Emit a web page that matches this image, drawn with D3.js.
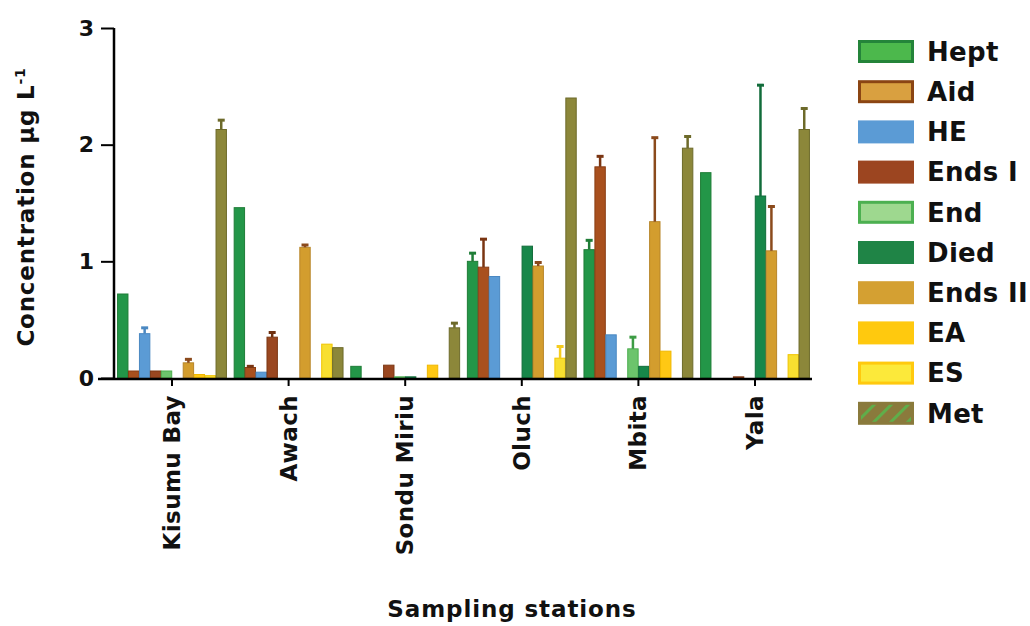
<!DOCTYPE html>
<html>
<head>
<meta charset="utf-8">
<script src="https://cdn.jsdelivr.net/npm/d3@7"></script>
<style>
  body { margin: 0; background: #fff; }
  svg text { font-family: "DejaVu Sans", sans-serif; font-weight: 700; fill: #111; }
</style>
</head>
<body>
<svg id="chart"></svg>
<script>
// stations and series (legend order)
const stations = ['Kisumu Bay', 'Awach', 'Sondu Miriu', 'Oluch', 'Mbita', 'Yala'];
const seriesNames = ['Hept', 'Aid', 'HE', 'Ends I', 'End', 'Died', 'Ends II', 'EA', 'ES', 'Met'];

// mean values per station
const hept   = [0.72, 1.46, 0.10, 1.00, 1.10, 1.76];
const aid    = [0.06, 0.09, 0.00, 0.95, 1.81, 0.00];
const he     = [0.38, 0.05, 0.00, 0.87, 0.37, 0.00];
const endsI  = [0.06, 0.35, 0.11, 0.00, 0.00, 0.01];
const end    = [0.06, 0.00, 0.01, 0.00, 0.25, 0.00];
const died   = [0.00, 0.00, 0.01, 1.13, 0.10, 1.56];
const endsII = [0.13, 1.12, 0.00, 0.96, 1.34, 1.09];
const ea     = [0.03, 0.00, 0.11, 0.00, 0.23, 0.00];
const es     = [0.02, 0.29, 0.00, 0.17, 0.00, 0.20];
const met    = [2.13, 0.26, 0.43, 2.40, 1.97, 2.13];

// upper error bars
const heptErr   = [0, 0, 0, 0.07, 0.08, 0];
const aidErr    = [0, 0.01, 0, 0.24, 0.09, 0];
const heErr     = [0.05, 0, 0, 0, 0, 0];
const endsIErr  = [0, 0.04, 0, 0, 0, 0];
const endErr    = [0, 0, 0, 0, 0.10, 0];
const diedErr   = [0, 0, 0, 0, 0, 0.95];
const endsIIErr = [0.03, 0.02, 0, 0.03, 0.72, 0.38];
const eaErr     = [0, 0, 0, 0, 0, 0];
const esErr     = [0, 0, 0, 0.10, 0, 0];
const metErr    = [0.08, 0, 0.04, 0, 0.10, 0.18];

const yTicks = [0, 1, 2, 3];

const values = [hept, aid, he, endsI, end, died, endsII, ea, es, met];
const errors = [heptErr, aidErr, heErr, endsIErr, endErr, diedErr, endsIIErr, eaErr, esErr, metErr];

const barFill   = ['#239648', '#a9501e', '#5b9bd5', '#9a4720', '#6cc46c', '#17874a', '#d39d2e', '#ffc814', '#f8df30', '#8c873a'];
const barStroke = ['#1f7d37', '#8a3d14', '#4a88c2', '#7c3814', '#4cae4f', '#116c3a', '#b8862a', '#f0b800', '#f0c400', '#6d6a2a'];
const errColor  = ['#1f7d37', '#7a3512', '#4a88c2', '#6e3010', '#3d9c44', '#116c3a', '#8b4a1c', '#f0b800', '#f5cc20', '#6d6a2a'];
const legendFill = ['#4cb84c', '#d9a040', '#5b9bd5', '#9c4520', '#9ed88f', '#1f8446', '#d4a032', '#ffc90e', '#fce93a', '#8a7a3c'];
const legendStroke = ['#24843a', '#8b4513', '#5b9bd5', '#9c4520', '#4cb050', '#1f8446', '#d4a032', '#ffc90e', '#ffc90e', '#8a7a3c'];

const config = {
  width: 1030, height: 626,
  yAxisX: 114, xAxisStart: 98, xAxisEnd: 812,
  yTop: 28, yBottom: 378
};

const svg = d3.select('#chart')
  .attr('width', config.width)
  .attr('height', config.height);

// scales
const x0 = d3.scaleBand()
  .domain(stations)
  .range([113.7, 813.3])
  .paddingInner(0.057)
  .paddingOuter(0.0285);

const x1 = d3.scaleBand()
  .domain(seriesNames)
  .range([0, x0.bandwidth()])
  .padding(0.05);

const y = d3.scaleLinear()
  .domain([0, 3])
  .range([config.yBottom, config.yTop]);

// build rows
const rows = [];
stations.forEach((st, i) => {
  seriesNames.forEach((s, k) => {
    rows.push({station: st, series: s, k: k, value: values[k][i], err: errors[k][i]});
  });
});

const cx = d => x0(d.station) + x1(d.series) + x1.bandwidth() / 2;

// bars
svg.append('g').attr('class', 'bars')
  .selectAll('rect')
  .data(rows.filter(d => d.value > 0))
  .join('rect')
  .attr('x', d => x0(d.station) + x1(d.series))
  .attr('width', x1.bandwidth())
  .attr('y', d => y(d.value))
  .attr('height', d => y(0) - y(d.value))
  .attr('fill', d => barFill[d.k])
  .attr('stroke', d => barStroke[d.k])
  .attr('stroke-width', 1);

// error bars (upper only)
const errG = svg.append('g').attr('class', 'errors');
const errRows = rows.filter(d => d.err > 0);
errG.selectAll('line.stem')
  .data(errRows)
  .join('line')
  .attr('class', 'stem')
  .attr('x1', cx).attr('x2', cx)
  .attr('y1', d => y(d.value))
  .attr('y2', d => y(d.value + d.err))
  .attr('stroke', d => errColor[d.k])
  .attr('stroke-width', 2.5);
errG.selectAll('line.cap')
  .data(errRows)
  .join('line')
  .attr('class', 'cap')
  .attr('x1', d => cx(d) - 3.5)
  .attr('x2', d => cx(d) + 3.5)
  .attr('y1', d => y(d.value + d.err))
  .attr('y2', d => y(d.value + d.err))
  .attr('stroke', d => errColor[d.k])
  .attr('stroke-width', 3);

// y axis
const yAxis = d3.axisLeft(y)
  .tickValues(yTicks)
  .tickFormat(d3.format('d'))
  .tickSize(13)
  .tickPadding(7);
const yGroup = svg.append('g')
  .attr('transform', `translate(${config.yAxisX},0)`)
  .call(yAxis);
yGroup.select('.domain').attr('d', `M0,${config.yTop}V${config.yBottom}`).attr('stroke-width', 2.5);
yGroup.selectAll('.tick line').attr('stroke-width', 2);
yGroup.selectAll('.tick text').style('font-size', '22px').attr('fill', '#111');

// x axis
const xAxis = d3.axisBottom(x0).tickSize(7).tickFormat('');
const xGroup = svg.append('g')
  .attr('transform', `translate(0,${config.yBottom + 1})`)
  .call(xAxis);
xGroup.select('.domain').attr('d', `M${config.xAxisStart},0H${config.xAxisEnd}`).attr('stroke-width', 2.5);
xGroup.selectAll('.tick line').attr('stroke-width', 2);

// station labels, vertical
svg.append('g').selectAll('text')
  .data(stations)
  .join('text')
  .attr('transform', d => `translate(${x0(d) + x0.bandwidth() / 2 + 8},395) rotate(-90)`)
  .attr('text-anchor', 'end')
  .style('font-size', '23px')
  .style('letter-spacing', '0.4px')
  .text(d => d);

// axis titles
svg.append('text')
  .attr('transform', 'translate(34,207) rotate(-90)')
  .attr('text-anchor', 'middle')
  .style('font-size', '23px')
  .style('letter-spacing', '0.8px')
  .html('Concentration µg L<tspan dy="-9" font-size="14px">-1</tspan>');

svg.append('text')
  .attr('x', 512)
  .attr('y', 617)
  .attr('text-anchor', 'middle')
  .style('font-size', '23px')
  .style('letter-spacing', '0.9px')
  .text('Sampling stations');

// legend
const defs = svg.append('defs');
const pat = defs.append('pattern')
  .attr('id', 'metHatch')
  .attr('patternUnits', 'userSpaceOnUse')
  .attr('width', 12).attr('height', 12)
  .attr('patternTransform', 'rotate(45)');
pat.append('rect').attr('width', 12).attr('height', 12).attr('fill', '#8a7a3c');
pat.append('rect').attr('width', 3).attr('height', 12).attr('fill', '#5fae4a');

const legend = svg.append('g').attr('transform', 'translate(858,40)');
const items = legend.selectAll('g')
  .data(seriesNames)
  .join('g')
  .attr('transform', (d, i) => `translate(0,${i * 40.2})`);
items.append('rect')
  .attr('x', 1.5).attr('y', 1.5)
  .attr('width', 53).attr('height', 20)
  .attr('fill', (d, i) => d === 'Met' ? 'url(#metHatch)' : legendFill[i])
  .attr('stroke', (d, i) => legendStroke[i])
  .attr('stroke-width', 3);
items.append('text')
  .attr('x', 69)
  .attr('y', 11.5)
  .attr('dy', '0.36em')
  .style('font-size', '26px')
  .style('letter-spacing', '0.3px')
  .text(d => d);
</script>
</body>
</html>
